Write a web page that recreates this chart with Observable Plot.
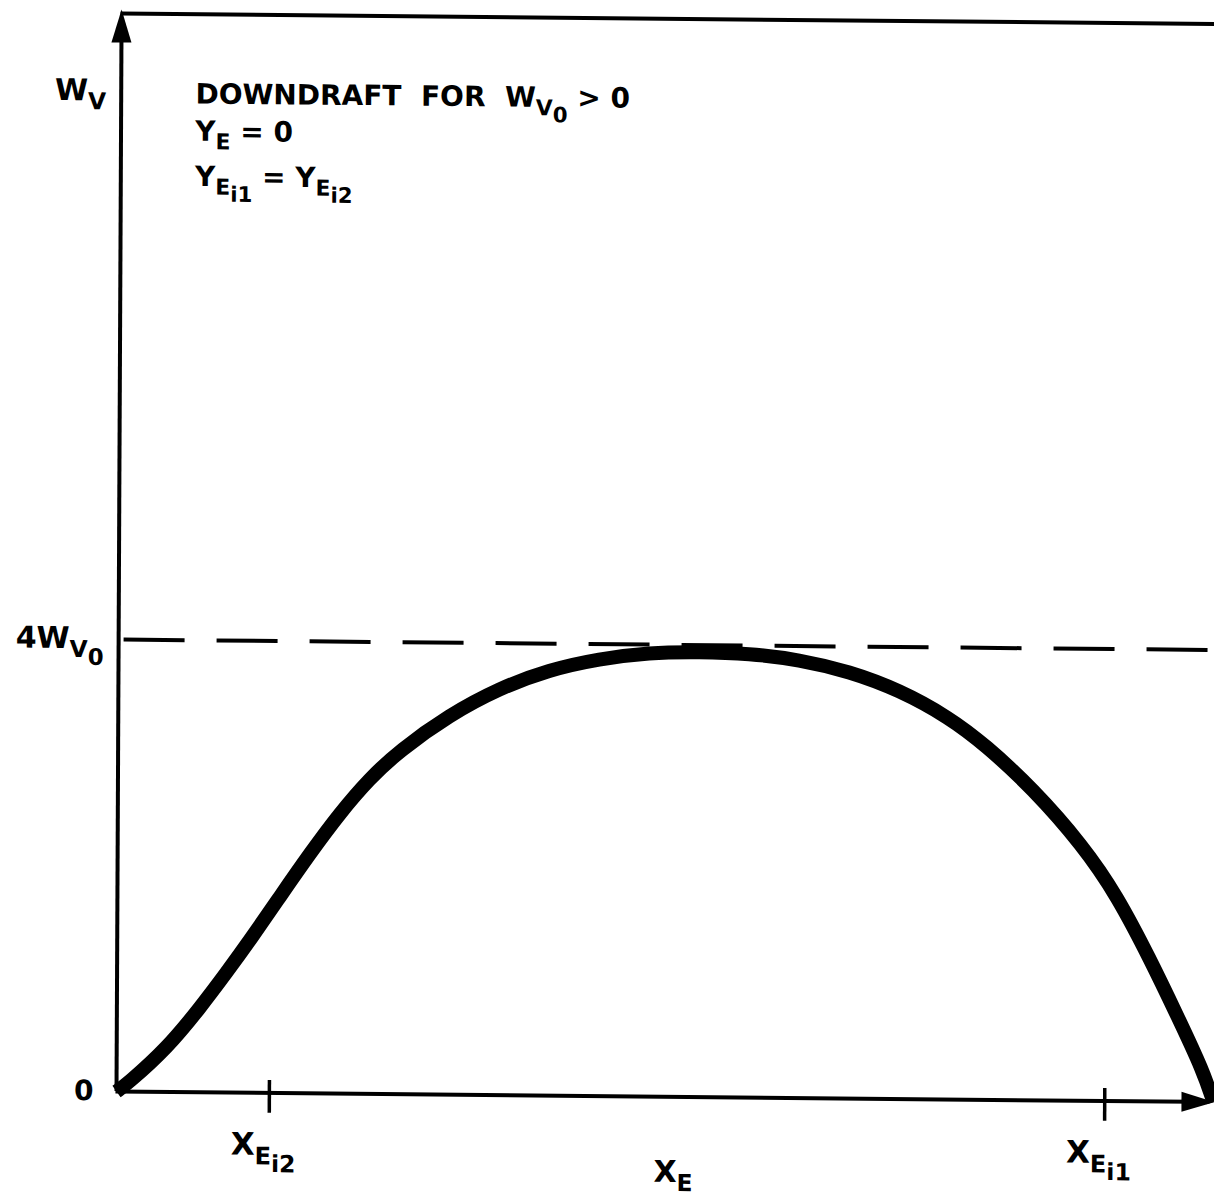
<!DOCTYPE html>
<html>
<head>
<meta charset="utf-8">
<script src="https://cdn.jsdelivr.net/npm/d3@7"></script>
<script src="https://cdn.jsdelivr.net/npm/@observablehq/plot@0.6"></script>
<style>
  html, body { margin: 0; padding: 0; background: #fff; overflow: hidden; }
  #chart { width: 1214px; height: 1199px; transform: rotate(0.55deg) skewX(0.28deg); transform-origin: 116px 1091px; }
  #chart svg text { white-space: pre; }
</style>
</head>
<body>
<div id="chart"></div>
<script>
// Vertical wind W_V along the X_E axis, in units of W_V0 (downdraft profile)
const xE = [0, 1.0, 4.64, 7.63, 10.08, 12.16, 14.89, 17.59, 20.31, 23.03, 25.76, 30.31, 34.87,
  39.44, 44.01, 48.58, 53.16, 57.74, 62.33, 66.91, 71.51, 76.11, 79.42, 83.76, 88.37, 91.53,
  94.59, 97.11, 99.52, 100.45];
const wV = [0, 0.07, 0.39, 0.75, 1.07, 1.35, 1.74, 2.12, 2.48, 2.79, 3.04, 3.36, 3.60,
  3.77, 3.87, 3.93, 3.94, 3.93, 3.88, 3.78, 3.62, 3.38, 3.14, 2.76, 2.26, 1.82,
  1.26, 0.76, 0.27, 0];

// Marked positions on the X_E axis
const tickX = [14.0, 90.5];
const tickLabels = ["X_{E_{i2}}", "X_{E_{i1}}"];

// Levels named on the W_V axis; the dashed reference sits at 4 W_V0
const levelValues = [0, 4];
const levelLabels = ["0", "4W_{V_0}"];

// Axis names and the note in the upper left
const axisNames = ["W_V", "X_E"];
const noteLines = ["DOWNDRAFT  FOR  W_{V_0} > 0", "Y_E = 0", "Y_{E_{i1}} = Y_{E_{i2}}"];

// Extents of the drawn axes (arrow tips) and of the top border
const xTip = 100.55;
const yTip = 9.575;
const topBorder = 9.54;

// Layout of the note block (data coordinates)
const noteX = 6.8;
const noteY = [8.75, 8.42, 8.02];

// Filled, elongated arrowhead pointing up, tip at the anchor point
const arrowHead = {
  draw(context) {
    const L = 33, w = 20;
    context.moveTo(0, 0);
    context.lineTo(w / 2, L);
    context.lineTo(-w / 2, L);
    context.closePath();
  }
};

const font = "'DejaVu Sans', sans-serif";
const textBase = {fill: "black", fontWeight: "bold", lineAnchor: "bottom", fontFamily: font};

const curve = xE.map((x, i) => ({x, w: wV[i]}));
const ticks = tickX.map((x, i) => ({x, label: tickLabels[i]}));
const notes = noteLines.map((t, i) => ({t, y: noteY[i]}));

const plot = Plot.plot({
  width: 1214,
  height: 1199,
  margin: 0,
  x: {domain: [0, 100], range: [116, 1208], axis: null},
  y: {domain: [0, 4], range: [1091, 639], axis: null},
  style: {fontFamily: font, background: "white", overflow: "visible"},
  marks: [
    // border along the top
    Plot.ruleY([topBorder], {x1: -0.05, x2: 102, stroke: "black", strokeWidth: 4}),
    // axes with arrowheads
    Plot.ruleX([0], {y1: 0, y2: yTip - 0.25, stroke: "black", strokeWidth: 4}),
    Plot.ruleY([0], {x1: -0.05, x2: xTip - 2, stroke: "black", strokeWidth: 4}),
    Plot.dot([{x: 0, y: yTip, a: 0}, {x: xTip, y: 0, a: 90}],
      {x: "x", y: "y", rotate: "a", symbol: arrowHead, r: 5, fill: "black", stroke: "none"}),
    // dashed 4 W_V0 reference
    Plot.ruleY([levelValues[1]], {x1: 0.5, x2: 102, stroke: "black", strokeWidth: 4, strokeDasharray: "61,32"}),
    // marks on the X_E axis
    Plot.ruleX(ticks, {x: "x", y1: -0.18, y2: 0.11, stroke: "black", strokeWidth: 3.5}),
    // W_V profile
    Plot.line(curve, {x: "x", y: "w", curve: "basis", stroke: "black", strokeWidth: 14,
      strokeLinejoin: "round", strokeLinecap: "butt"}),
    // labels
    Plot.text(ticks, {...textBase, x: "x", y: () => 0, text: "label", fontSize: 31, textAnchor: "middle", dx: -6, dy: 62}),
    Plot.text([levelValues[0]], {...textBase, x: () => 0, y: d => d, text: () => levelLabels[0], fontSize: 28, textAnchor: "end", dx: -23, dy: 9}),
    Plot.text([levelValues[1]], {...textBase, x: () => 0, y: d => d, text: () => levelLabels[1], fontSize: 30, textAnchor: "end", dx: -15, dy: 9}),
    Plot.text([axisNames[0]], {...textBase, x: () => 0, y: () => yTip, text: d => d, fontSize: 30, textAnchor: "end", dx: -15, dy: 91}),
    Plot.text([axisNames[1]], {...textBase, x: () => 51, y: () => 0, text: d => d, fontSize: 30, textAnchor: "middle", dy: 85}),
    Plot.text(notes, {...textBase, x: () => noteX, y: "y", text: "t", fontSize: 28, textAnchor: "start"})
  ]
});

document.getElementById("chart").appendChild(plot);

// Subscript markup: "_c" or "_{...}" lowers and shrinks text, nesting allowed
function parseMarkup(s) {
  const out = [];
  let i = 0;
  function walk(level, inGroup) {
    let buf = "";
    const flush = () => { if (buf) { out.push({text: buf, level}); buf = ""; } };
    while (i < s.length) {
      const c = s[i];
      if (c === "}" && inGroup) { i++; flush(); return; }
      if (c === "_") {
        flush(); i++;
        if (s[i] === "{") { i++; walk(level + 1, true); }
        else { out.push({text: s[i], level: level + 1}); i++; }
      } else { buf += c; i++; }
    }
    flush();
  }
  walk(0, false);
  return out;
}

const levelScale = [1, 0.78, 0.76, 0.72];
const levelDrop = [0, 0.3, 0.55, 0.7];

d3.select(plot).selectAll("text").each(function () {
  const str = this.textContent;
  if (!str.includes("_")) return;
  const base = parseFloat(getComputedStyle(this).fontSize);
  const el = d3.select(this);
  el.text(null);
  let prev = 0;
  for (const piece of parseMarkup(str)) {
    const drop = levelDrop[piece.level] * base;
    el.append("tspan")
      .attr("font-size", levelScale[piece.level] * base)
      .attr("dy", drop - prev)
      .text(piece.text);
    prev = drop;
  }
});
</script>
</body>
</html>
